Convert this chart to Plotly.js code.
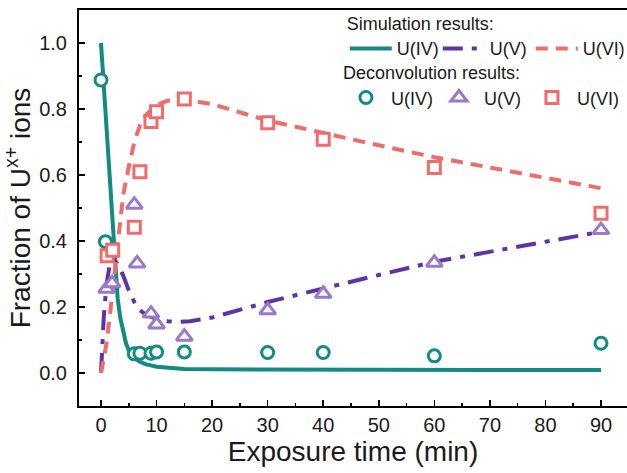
<!DOCTYPE html>
<html>
<head>
<meta charset="utf-8">
<script src="https://cdn.plot.ly/plotly-3.0.1.min.js"></script>
<style>html,body{margin:0;padding:0;background:#fff;}#chart{width:627px;height:473px;}</style>
</head>
<body>
<div id="chart"></div>
<script>
// Simulation results (curves)
const simIV_t = [0, 0.5, 1, 1.5, 2, 2.5, 3, 3.5, 4, 4.5, 5, 6, 7, 8, 10, 12, 15, 20, 30, 40, 50, 60, 70, 80, 90];
const simIV_y = [1.0, 0.87, 0.74, 0.595, 0.45, 0.32, 0.225, 0.165, 0.12, 0.09, 0.068, 0.045, 0.034, 0.027, 0.019, 0.015, 0.012, 0.011, 0.010, 0.010, 0.010, 0.009, 0.009, 0.009, 0.009];
const simV_t = [0, 0.5, 1, 1.5, 2, 2.5, 3, 4, 5, 6, 7, 8, 9, 10, 12, 14, 16, 20, 30, 40, 50, 60, 70, 80, 90];
const simV_y = [0, 0.17, 0.27, 0.32, 0.34, 0.34, 0.33, 0.295, 0.25, 0.215, 0.19, 0.178, 0.17, 0.164, 0.157, 0.155, 0.157, 0.168, 0.215, 0.257, 0.297, 0.337, 0.368, 0.398, 0.428];
const simVI_t = [0, 0.5, 1, 1.5, 2, 2.5, 3, 3.5, 4, 5, 6, 7, 8, 10, 12, 15, 20, 30, 40, 50, 60, 70, 80, 90];
const simVI_y = [0, 0.04, 0.09, 0.16, 0.24, 0.32, 0.40, 0.47, 0.54, 0.625, 0.70, 0.75, 0.78, 0.812, 0.825, 0.828, 0.815, 0.765, 0.726, 0.69, 0.654, 0.622, 0.59, 0.56];

// Deconvolution results (points)
const decIV_t = [0, 0.8, 6, 7, 9, 10, 15, 30, 40, 60, 90];
const decIV_y = [0.888, 0.398, 0.058, 0.060, 0.060, 0.064, 0.064, 0.062, 0.062, 0.052, 0.090];
const decV_t = [1, 2, 6, 6.5, 9, 10, 15, 30, 40, 60, 90];
const decV_y = [0.255, 0.272, 0.510, 0.332, 0.180, 0.147, 0.110, 0.190, 0.240, 0.334, 0.433];
const decVI_t = [1.1, 2.1, 6, 7, 9, 10, 15, 30, 40, 60, 90];
const decVI_y = [0.355, 0.372, 0.442, 0.610, 0.762, 0.792, 0.830, 0.758, 0.708, 0.623, 0.484];

const seriesNames = ['U(IV)', 'U(V)', 'U(VI)'];
const xTicks = [0, 10, 20, 30, 40, 50, 60, 70, 80, 90];

const TEAL = '#138a82', PURPLE_LINE = '#5e33a6', PURPLE_MK = '#9a79c6', RED = '#f06c6c';
const FONT = 'Liberation Sans, Arial, sans-serif';

const traces = [
  {x: simIV_t, y: simIV_y, mode: 'lines', name: seriesNames[0], legend: 'legend',
   line: {color: TEAL, width: 4}},
  {x: simV_t, y: simV_y, mode: 'lines', name: seriesNames[1], legend: 'legend',
   line: {color: PURPLE_LINE, width: 4, dash: '20px,9px,5px,9px'}},
  {x: simVI_t, y: simVI_y, mode: 'lines', name: seriesNames[2], legend: 'legend',
   line: {color: RED, width: 4, dash: '12px,8px'}},
  {x: decIV_t, y: decIV_y, mode: 'markers', name: seriesNames[0], legend: 'legend2',
   marker: {symbol: 'circle', size: 12, color: '#fff', line: {color: TEAL, width: 3}}},
  {x: decV_t, y: decV_y, mode: 'markers', name: seriesNames[1], legend: 'legend2',
   marker: {symbol: 'triangle-up', size: 14, color: '#fff', line: {color: PURPLE_MK, width: 3}}},
  {x: decVI_t, y: decVI_y, mode: 'markers', name: seriesNames[2], legend: 'legend2',
   marker: {symbol: 'square', size: 12, color: '#fff', line: {color: RED, width: 3}}}
];

const layout = {
  width: 627, height: 473,
  margin: {l: 79, r: 0, t: 10, b: 67, autoexpand: false},
  paper_bgcolor: '#fff', plot_bgcolor: '#fff',
  font: {family: FONT, color: '#1a1a1a'},
  showlegend: true,
  legend: {
    xref: 'paper', yref: 'paper', x: 0.485, y: 1.008, xanchor: 'left', yanchor: 'top',
    orientation: 'h', bgcolor: 'rgba(0,0,0,0)', itemwidth: 42,
    font: {size: 18, family: FONT, color: '#1a1a1a'},
    title: {text: 'Simulation results:', side: 'top', font: {size: 18, family: FONT, color: '#1a1a1a'}},
    entrywidth: 36, entrywidthmode: 'pixels'
  },
  legend2: {
    xref: 'paper', yref: 'paper', x: 0.478, y: 0.884, xanchor: 'left', yanchor: 'top',
    orientation: 'h', bgcolor: 'rgba(0,0,0,0)', itemwidth: 40,
    font: {size: 18, family: FONT, color: '#1a1a1a'},
    title: {text: 'Deconvolution results:', side: 'top', font: {size: 18, family: FONT, color: '#1a1a1a'}},
    entrywidth: 38, entrywidthmode: 'pixels'
  },
  xaxis: {
    range: [-3.96, 94.68], tickvals: xTicks, ticktext: xTicks.map(String),
    ticks: 'inside', ticklen: 6, tickwidth: 1.5, tickcolor: '#000',
    minor: {dtick: 5, tick0: 0, ticks: 'inside', ticklen: 3, tickwidth: 1.5, tickcolor: '#000', showgrid: false},
    showline: true, linewidth: 2, linecolor: '#000', mirror: true,
    showgrid: false, zeroline: false,
    tickfont: {size: 20, family: FONT, color: '#1a1a1a'},
    title: {text: 'Exposure time (min)', font: {size: 28, family: FONT, color: '#1a1a1a'}, standoff: 6}
  },
  yaxis: {
    range: [-0.1, 1.1], tick0: 0, dtick: 0.2, tickformat: '.1f',
    ticks: 'inside', ticklen: 6, tickwidth: 1.5, tickcolor: '#000',
    minor: {dtick: 0.1, tick0: 0, ticks: 'inside', ticklen: 3, tickwidth: 1.5, tickcolor: '#000', showgrid: false},
    showline: true, linewidth: 2, linecolor: '#000', mirror: false,
    showgrid: false, zeroline: false,
    tickfont: {size: 20, family: FONT, color: '#1a1a1a'},
    ticklabelstandoff: 6,
    title: {text: 'Fraction of U<sup>x+</sup> ions', font: {size: 28, family: FONT, color: '#1a1a1a'}, standoff: 8}
  }
};

Plotly.newPlot('chart', traces, layout, {displayModeBar: false, staticPlot: true});
</script>
</body>
</html>
